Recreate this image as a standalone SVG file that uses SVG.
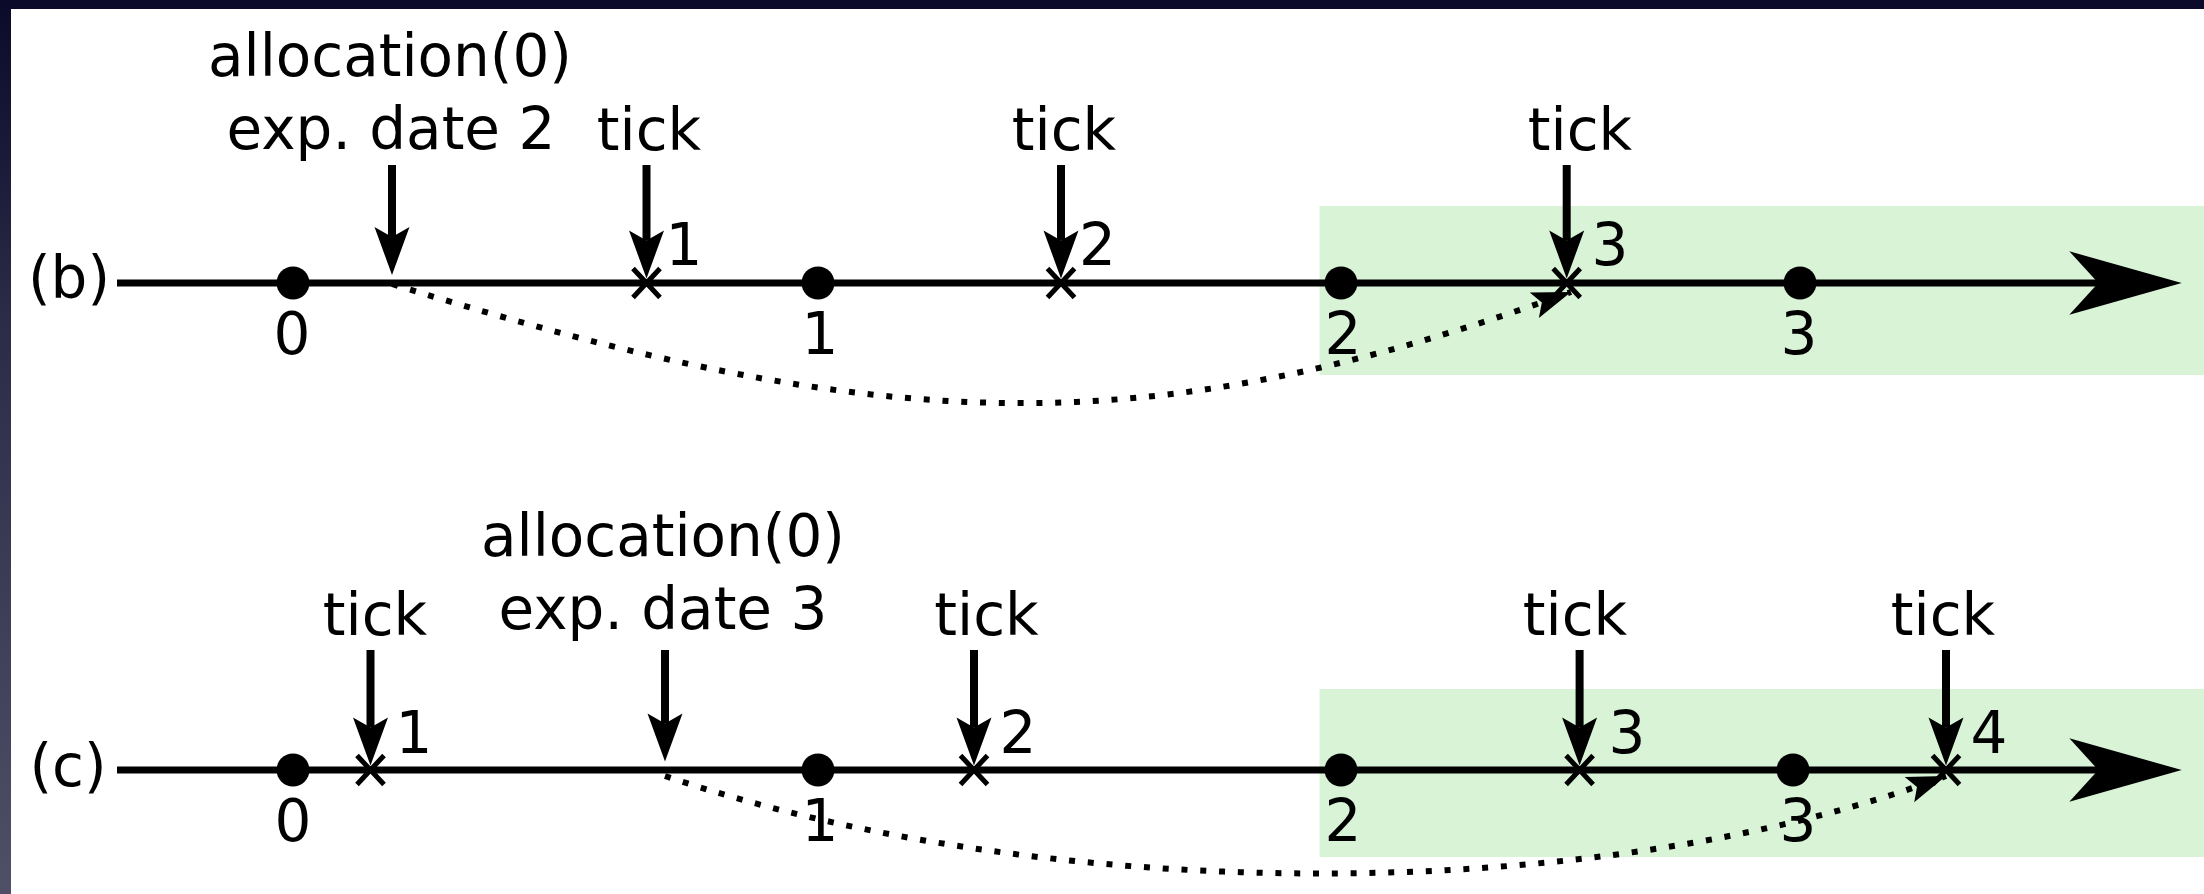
<svg xmlns="http://www.w3.org/2000/svg" width="2204" height="894" viewBox="0 0 2204 894">
  <defs>
    <linearGradient id="edgeShade" x1="0" y1="0" x2="0" y2="1">
      <stop offset="0" stop-color="#0b0a2a"/>
      <stop offset="0.35" stop-color="#2a2b47"/>
      <stop offset="1" stop-color="#4f5067"/>
    </linearGradient>
    <!-- head for the short "event" arrows; origin sits at the notch -->
    <marker id="eventHead" markerUnits="userSpaceOnUse" orient="auto" refX="0" refY="0" markerWidth="120" markerHeight="120" overflow="visible">
      <path d="M38,0 L-10,-17.5 L0,0 L-10,17.5 Z" fill="#000"/>
    </marker>
    <!-- large head at the end of each time axis; origin at the notch -->
    <marker id="axisHead" markerUnits="userSpaceOnUse" orient="auto" refX="0" refY="0" markerWidth="200" markerHeight="200" overflow="visible">
      <path d="M83.4,0 L-29,-31.7 L0,0 L-29,31.7 Z" fill="#000"/>
    </marker>
    <!-- head of the dotted expiry curve; origin at the tip -->
    <marker id="expiryHead" markerUnits="userSpaceOnUse" orient="auto" refX="0" refY="0" markerWidth="100" markerHeight="100" overflow="visible">
      <path d="M0,0 L-39,-13.5 L-31,0 L-39,13.5 Z" fill="#000"/>
    </marker>
  </defs>
  <style>
    text { font-family: "DejaVu Sans", "Liberation Sans", sans-serif; font-size: 58px; fill: #000; }
    .mid { text-anchor: middle; }
    .axis { stroke: #000; stroke-width: 7; fill: none; marker-end: url(#axisHead); }
    .shaft { stroke: #000; stroke-width: 8; fill: none; marker-end: url(#eventHead); }
    .expiry { stroke: #000; stroke-width: 6; fill: none; stroke-dasharray: 6 12.8; marker-end: url(#expiryHead); }
    .cross { stroke: #000; stroke-width: 5; fill: none; }
    .dot { fill: #000; }
    .zone { fill: #d9f3d7; }
  </style>

  <!-- page -->
  <rect x="0" y="0" width="2204" height="894" fill="#fff"/>
  <rect x="0" y="0" width="2204" height="9" fill="#0b0a2a"/>
  <rect x="0" y="0" width="11" height="894" fill="url(#edgeShade)"/>

  <!-- expired zones -->
  <rect class="zone" x="1319.5" y="206" width="884.5" height="169"/>
  <rect class="zone" x="1319.5" y="689" width="884.5" height="168"/>

  <g id="connectors">
    <!-- time axes -->
    <path class="axis" d="M117,283 H2098.3"/>
    <path class="axis" d="M117,770 H2098.3"/>
    <!-- expiry curves -->
    <path class="expiry" d="M392,284 C888,437.7 1146,445 1571,292"/>
    <path class="expiry" d="M665,776 C1050,906 1600,906 1946,776"/>
    <!-- event arrows, row (b) -->
    <path class="shaft" d="M392,165 V237"/>
    <path class="shaft" d="M646.5,165 V240.5"/>
    <path class="shaft" d="M1061,165 V240.5"/>
    <path class="shaft" d="M1566.7,165 V240.5"/>
    <!-- event arrows, row (c) -->
    <path class="shaft" d="M665,650 V723.5"/>
    <path class="shaft" d="M370.5,650 V727.5"/>
    <path class="shaft" d="M974,650 V727.5"/>
    <path class="shaft" d="M1579.6,650 V727.5"/>
    <path class="shaft" d="M1946,650 V727.5"/>
  </g>

  <!-- row (b) -->
  <g id="row-b-label"><text x="69" y="298" class="mid">(b)</text></g>
  <g id="b-alloc">
    <text x="390" y="76" class="mid">allocation(0)</text>
    <text x="391" y="149" class="mid">exp. date 2</text>
  </g>
  <g id="b-tick1">
    <text x="649" y="150" class="mid">tick</text>
    <path class="cross" d="M633,268.5 L660,297.5 M660,268.5 L633,297.5"/>
    <text x="684" y="265" class="mid">1</text>
  </g>
  <g id="b-tick2">
    <text x="1064" y="150" class="mid">tick</text>
    <path class="cross" d="M1047.5,268.5 L1074.5,297.5 M1074.5,268.5 L1047.5,297.5"/>
    <text x="1097.5" y="265" class="mid">2</text>
  </g>
  <g id="b-tick3">
    <text x="1580" y="150" class="mid">tick</text>
    <path class="cross" d="M1553.2,268.5 L1580.2,297.5 M1580.2,268.5 L1553.2,297.5"/>
    <text x="1610" y="265" class="mid">3</text>
  </g>
  <g id="b-t0"><circle class="dot" cx="293" cy="283" r="16.5"/><text x="292" y="354" class="mid">0</text></g>
  <g id="b-t1"><circle class="dot" cx="818" cy="283" r="16.5"/><text x="820" y="354" class="mid">1</text></g>
  <g id="b-t2"><circle class="dot" cx="1341" cy="283" r="16.5"/><text x="1343" y="354" class="mid">2</text></g>
  <g id="b-t3"><circle class="dot" cx="1800" cy="283" r="16.5"/><text x="1799" y="354" class="mid">3</text></g>

  <!-- row (c) -->
  <g id="row-c-label"><text x="68" y="786" class="mid">(c)</text></g>
  <g id="c-alloc">
    <text x="663" y="556" class="mid">allocation(0)</text>
    <text x="663" y="629" class="mid">exp. date 3</text>
  </g>
  <g id="c-tick1">
    <text x="375" y="635" class="mid">tick</text>
    <path class="cross" d="M357,755.5 L384,784.5 M384,755.5 L357,784.5"/>
    <text x="414" y="753" class="mid">1</text>
  </g>
  <g id="c-tick2">
    <text x="986.5" y="635" class="mid">tick</text>
    <path class="cross" d="M960.5,755.5 L987.5,784.5 M987.5,755.5 L960.5,784.5"/>
    <text x="1018" y="753" class="mid">2</text>
  </g>
  <g id="c-tick3">
    <text x="1575" y="635" class="mid">tick</text>
    <path class="cross" d="M1566.1,755.5 L1593.1,784.5 M1593.1,755.5 L1566.1,784.5"/>
    <text x="1627" y="753" class="mid">3</text>
  </g>
  <g id="c-tick4">
    <text x="1943" y="635" class="mid">tick</text>
    <path class="cross" d="M1932.5,755.5 L1959.5,784.5 M1959.5,755.5 L1932.5,784.5"/>
    <text x="1989" y="753" class="mid">4</text>
  </g>
  <g id="c-t0"><circle class="dot" cx="293" cy="770" r="16.5"/><text x="293" y="841" class="mid">0</text></g>
  <g id="c-t1"><circle class="dot" cx="818" cy="770" r="16.5"/><text x="820" y="841" class="mid">1</text></g>
  <g id="c-t2"><circle class="dot" cx="1341" cy="770" r="16.5"/><text x="1343" y="841" class="mid">2</text></g>
  <g id="c-t3"><circle class="dot" cx="1793" cy="770" r="16.5"/><text x="1798" y="841" class="mid">3</text></g>
</svg>
